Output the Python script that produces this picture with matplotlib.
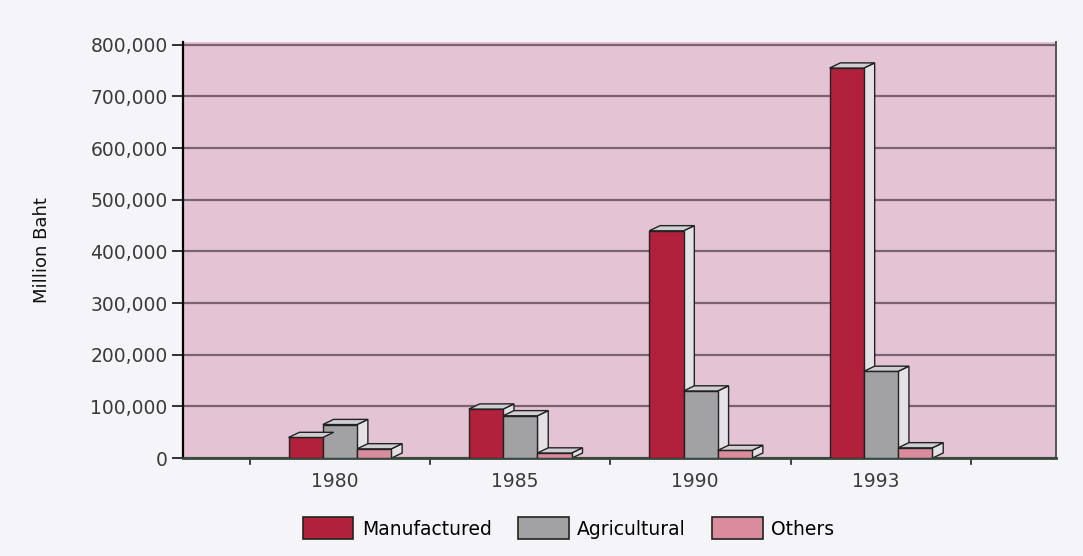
"""Thailand exports by category, pseudo-3D grouped bars."""

import numpy as np
import matplotlib
matplotlib.use("Agg")
import matplotlib.pyplot as plt
from matplotlib.patches import Polygon, Patch
from matplotlib.ticker import FuncFormatter

YEARS = ["1980", "1985", "1990", "1993"]
SERIES = ["Manufactured", "Agricultural", "Others"]
MANUFACTURED = [40000, 95000, 440000, 755000]
AGRICULTURAL = [65000, 82000, 130000, 168000]
OTHERS = [18000, 10000, 15000, 20000]

COLORS = {"Manufactured": "#B2213C", "Agricultural": "#A2A2A4", "Others": "#D98C9E"}
SIDE = "#E4E2E6"
TOP = "#CFCFD2"

plt.rcParams.update({
    "font.family": ["DejaVu Sans"],
    "font.size": 12,
})


def bar3d(ax, x, h, w, color, dx=0.06, dy=10000):
    x0, x1 = x - w / 2, x + w / 2
    ax.bar(x, h, width=w, color=color, edgecolor="#222222", linewidth=1.0, zorder=3)
    side = Polygon([(x1, 0), (x1 + dx, dy), (x1 + dx, h + dy), (x1, h)],
                   closed=True, facecolor=SIDE, edgecolor="#222222", linewidth=1.0, zorder=2)
    top = Polygon([(x0, h), (x0 + dx, h + dy), (x1 + dx, h + dy), (x1, h)],
                  closed=True, facecolor=TOP, edgecolor="#222222", linewidth=1.0, zorder=4)
    ax.add_patch(side)
    ax.add_patch(top)


fig = plt.figure(figsize=(10.83, 5.56), dpi=100, facecolor="#F5F4F9")
ax = fig.add_axes([0.169, 0.176, 0.806, 0.749])
ax.set_facecolor("#E4C4D4")

x = np.arange(len(YEARS))
w = 0.19
data = [MANUFACTURED, AGRICULTURAL, OTHERS]
offsets = [-w, 0, w]
for name, vals, off in zip(SERIES, data, offsets):
    for xi, v in zip(x, vals):
        bar3d(ax, xi + off, v, w, COLORS[name])

ax.set_xlim(-0.87, 3.97)
ax.set_ylim(0, 806000)
ax.set_yticks(np.arange(0, 800001, 100000))
ax.yaxis.set_major_formatter(FuncFormatter(lambda v, p: f"{int(v):,}"))
ax.yaxis.grid(True, color="#7A6270", linewidth=1.6, zorder=1)
ax.set_axisbelow(True)
ax.tick_params(axis="y", length=8, width=1.2, direction="out", colors="#111111",
               labelsize=13.5, labelcolor="#3A3A3A", pad=3)

ax.set_xticks(x - 0.03)
ax.set_xticklabels(YEARS)
ax.tick_params(axis="x", length=0, pad=10, labelsize=13.5, labelcolor="#3A3A3A")
for b in np.arange(-0.5, len(YEARS) + 0.5, 1.0):
    ax.plot([b, b], [0, -12000], color="#222222", linewidth=1.2, clip_on=False)

ax.spines["top"].set_visible(False)
ax.spines["left"].set_linewidth(1.6)
ax.spines["right"].set_color("#555555")
ax.spines["right"].set_linewidth(1.4)
ax.spines["bottom"].set_color("#34493c")
ax.spines["bottom"].set_linewidth(2.0)

ax.set_ylabel("Million Baht", fontsize=13, color="#111111", labelpad=28)

handles = [Patch(facecolor=COLORS[s], edgecolor="#222222", linewidth=1.2) for s in SERIES]
fig.legend(handles, SERIES, loc="lower center", bbox_to_anchor=(0.525, 0.0), ncol=3,
           frameon=False, fontsize=13.5, handlelength=2.7, handleheight=1.4,
           columnspacing=1.4, handletextpad=0.45)

fig.savefig("out.png", dpi=100, facecolor=fig.get_facecolor())
